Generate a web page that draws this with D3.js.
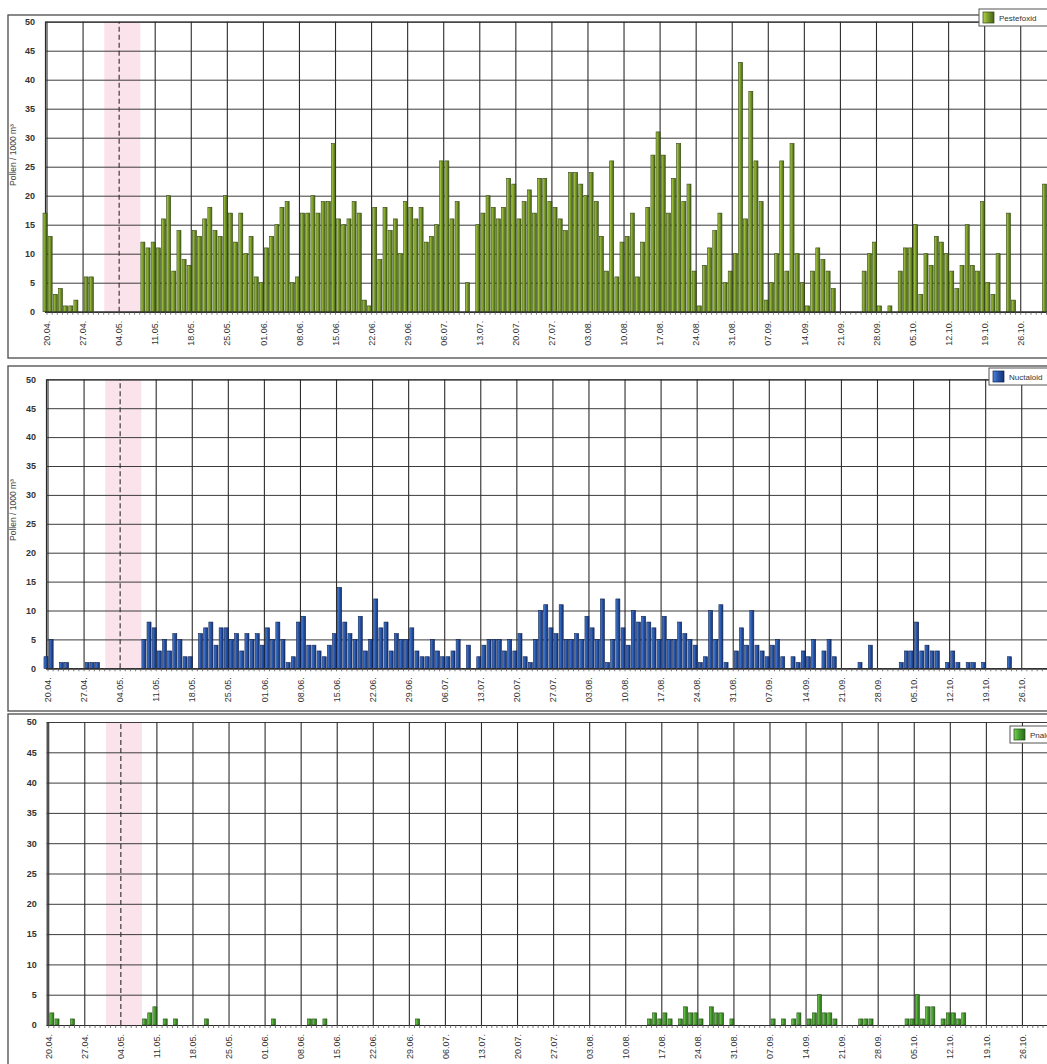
<!DOCTYPE html>
<html><head><meta charset="utf-8">
<script src="https://cdn.jsdelivr.net/npm/d3@7"></script>
<style>body{margin:0;background:#fff}svg{display:block}</style>
</head><body>
<svg id="c" width="1047" height="1064"></svg>
<script>
// ---------- DATA ----------
const weekLabels = ["20.04.","27.04.","04.05.","11.05.","18.05.","25.05.","01.06.","08.06.","15.06.","22.06.","29.06.","06.07.","13.07.","20.07.","27.07.","03.08.","10.08.","17.08.","24.08.","31.08.","07.09.","14.09.","21.09.","28.09.","05.10.","12.10.","19.10.","26.10."];
const yTicks = [0,5,10,15,20,25,30,35,40,45,50];
const seriesNames = ["Pestefoxid","Nuctaloid","Pnaloid"];
const yTitle = "Pollen / 1000 m³";

// daily values from 20.04. (index 0) to 31.10. (index 194)
const series1 = [
17,13,3,4,1,1,2,0,6,6,
0,0,0,0,0,0,0,0,0,12,
11,12,11,16,20,7,14,9,8,14,
13,16,18,14,13,20,17,12,17,10,
13,6,5,11,13,15,18,19,5,6,
17,17,20,17,19,19,29,16,15,16,
19,17,2,1,18,9,18,14,16,10,
19,18,16,18,12,13,15,26,26,16,
19,0,5,0,15,17,20,18,16,18,
23,22,16,19,21,17,23,23,19,18,
16,14,24,24,22,20,24,19,13,7,
26,6,12,13,17,6,12,18,27,31,
27,17,23,29,19,22,7,1,8,11,
14,17,5,7,10,43,16,38,26,19,
2,5,10,26,7,29,10,5,1,7,
11,9,7,4,0,0,0,0,0,7,
10,12,1,0,1,0,7,11,11,15,
3,10,8,13,12,10,7,4,8,15,
8,7,19,5,3,10,0,17,2,0,
0,0,0,0,22];
const series2 = [
2,5,0,1,1,0,0,0,1,1,
1,0,0,0,0,0,0,0,0,5,
8,7,3,5,3,6,5,2,2,0,
6,7,8,4,7,7,5,6,3,6,
5,6,4,7,5,8,5,1,2,8,
9,4,4,3,2,4,6,14,8,6,
5,9,3,5,12,7,8,3,6,5,
5,7,3,2,2,5,3,2,2,3,
5,0,4,0,2,4,5,5,5,3,
5,3,6,2,1,5,10,11,7,6,
11,5,5,6,5,9,7,5,12,1,
5,12,7,4,10,8,9,8,7,5,
9,5,5,8,6,5,4,1,2,10,
5,11,1,0,3,7,4,10,4,3,
2,4,5,2,0,2,1,3,2,5,
0,3,5,2,0,0,0,0,1,0,
4,0,0,0,0,0,1,3,3,8,
3,4,3,3,0,1,3,1,0,1,
1,0,1,0,0,0,0,2,0,0,
0,0,0,0,0];
const series3 = [
0,2,1,0,0,1,0,0,0,0,
0,0,0,0,0,0,0,0,0,1,
2,3,0,1,0,1,0,0,0,0,
0,1,0,0,0,0,0,0,0,0,
0,0,0,0,1,0,0,0,0,0,
0,1,1,0,1,0,0,0,0,0,
0,0,0,0,0,0,0,0,0,0,
0,0,1,0,0,0,0,0,0,0,
0,0,0,0,0,0,0,0,0,0,
0,0,0,0,0,0,0,0,0,0,
0,0,0,0,0,0,0,0,0,0,
0,0,0,0,0,0,0,1,2,1,
2,1,0,1,3,2,2,1,0,3,
2,2,0,1,0,0,0,0,0,0,
0,1,0,1,0,1,2,0,1,2,
5,2,2,1,0,0,0,0,1,1,
1,0,0,0,0,0,0,1,1,5,
1,3,3,0,1,2,2,1,2,0,
0,0,0,0,0,0,0,0,0,0,
0,0,0,0,0];

// ---------- LAYOUT ----------
const panels = [
  {values: series1, name: seriesNames[0], x0: 45,   yBase: 311.7, yTop: 21.7,
   frame: [8, 15, 1100, 343], legend: [979, 9], title: 155,
   colors: ["#b4d447", "#7c9d2d", "#44611a"], stroke: "#2f4410"},
  {values: series2, name: seriesNames[1], x0: 46,   yBase: 668.3, yTop: 379.3,
   frame: [8, 366, 1100, 345], legend: [989, 368], title: 510,
   colors: ["#4f86dc", "#2857ab", "#163270"], stroke: "#0e1f4c"},
  {values: series3, name: seriesNames[2], x0: 46.7, yBase: 1025,  yTop: 722,
   frame: [8, 714, 1100, 400], legend: [1010, 726], title: null,
   colors: ["#7ed35a", "#46a02f", "#2b6a1b"], stroke: "#1f4a12"}
];
const step = 5.152;
const plotRight = 1100;
const font = "'Liberation Sans', Arial, sans-serif";

const svg = d3.select("#c");
const defs = svg.append("defs");

panels.forEach((p, pi) => {
  const N = p.values.length;
  const xs = d3.scaleBand().domain(d3.range(N))
    .range([p.x0 - step / 2, p.x0 - step / 2 + N * step])
    .paddingInner(0.22).paddingOuter(0.11);
  const ys = d3.scaleLinear().domain([0, 50]).range([p.yBase, p.yTop]);
  const center = i => xs(i) + xs.bandwidth() / 2;
  const weekIdx = weekLabels.map((_, k) => k * 7);

  const grad = defs.append("linearGradient").attr("id", "g" + pi)
    .attr("x1", "0").attr("x2", "1").attr("y1", "0").attr("y2", "0");
  grad.append("stop").attr("offset", "0%").attr("stop-color", p.colors[0]);
  grad.append("stop").attr("offset", "45%").attr("stop-color", p.colors[1]);
  grad.append("stop").attr("offset", "100%").attr("stop-color", p.colors[2]);

  const g = svg.append("g");
  // frame
  g.append("rect").attr("x", p.frame[0]).attr("y", p.frame[1])
    .attr("width", p.frame[2]).attr("height", p.frame[3])
    .attr("fill", "#fff").attr("stroke", "#4a4a4a").attr("stroke-width", 1.3);

  // pink band
  const gap = (xs.step() - xs.bandwidth()) / 2;
  g.append("rect")
    .attr("x", xs(12) - gap).attr("y", p.yTop)
    .attr("width", xs(18) + xs.bandwidth() + gap - (xs(12) - gap))
    .attr("height", p.yBase - p.yTop)
    .attr("fill", "#fbe3ec");

  // horizontal grid + y labels
  const yAx = g.append("g").attr("transform", `translate(${p.x0},0)`)
    .call(d3.axisLeft(ys).tickValues(yTicks).tickSize(-(plotRight - p.x0)).tickPadding(10));
  yAx.select(".domain").attr("stroke", "#2a2a2a").attr("stroke-width", 1.2);
  yAx.selectAll(".tick line").attr("stroke", "#3c3c3c").attr("stroke-width", 1);
  yAx.selectAll(".tick text").attr("font-family", font).attr("font-size", 9)
    .attr("font-weight", "bold").attr("fill", "#333");

  // vertical weekly grid + date labels
  const xAx = g.append("g").attr("transform", `translate(${xs.bandwidth() / 2},${p.yBase})`)
    .call(d3.axisBottom(xs).tickValues(weekIdx).tickSize(-(p.yBase - p.yTop))
      .tickFormat((d, k) => weekLabels[k]).tickSizeOuter(0));
  xAx.select(".domain").remove();
  xAx.selectAll(".tick line").attr("stroke", "#2c2c2c").attr("stroke-width", 1.1)
    .attr("stroke-dasharray", d => d === 14 ? "5,3" : null);
  xAx.selectAll(".tick text").attr("font-family", font).attr("font-size", 9)
    .attr("fill", "#333").attr("text-anchor", "end")
    .attr("transform", "rotate(-90)").attr("x", -9).attr("y", 0).attr("dy", "0.35em");

  // bars
  g.append("g").selectAll("rect")
    .data(p.values.map((v, i) => ({i, v})).filter(d => d.v > 0))
    .join("rect")
    .attr("x", d => xs(d.i)).attr("width", xs.bandwidth())
    .attr("y", d => ys(d.v)).attr("height", d => ys(0) - ys(d.v))
    .attr("fill", `url(#g${pi})`).attr("stroke", p.stroke).attr("stroke-width", 0.6);

  // daily category ticks / baseline
  const dAx = g.append("g").attr("transform", `translate(${xs.bandwidth() / 2},${p.yBase})`)
    .call(d3.axisBottom(xs).tickValues(d3.range(N)).tickSize(3).tickFormat("").tickSizeOuter(0));
  dAx.select(".domain").attr("stroke", "#2a2a2a").attr("stroke-width", 1.1)
    .attr("d", `M${p.x0 - xs.bandwidth() / 2},0.5H${plotRight}`);
  dAx.selectAll(".tick line").attr("stroke", "#555").attr("stroke-width", 0.8);

  // legend
  const lg = g.append("g").attr("transform", `translate(${p.legend[0]},${p.legend[1]})`);
  lg.append("rect").attr("width", 120).attr("height", 17)
    .attr("fill", "#fff").attr("stroke", "#555").attr("stroke-width", 1);
  lg.append("rect").attr("x", 4).attr("y", 3).attr("width", 11).attr("height", 11)
    .attr("fill", `url(#g${pi})`).attr("stroke", p.stroke).attr("stroke-width", 0.7);
  lg.append("text").attr("x", 20).attr("y", 12).attr("font-family", font)
    .attr("font-size", 8).attr("fill", "#333").text(p.name);

  // y title
  if (p.title !== null) {
    g.append("text").attr("transform", `translate(16,${p.title}) rotate(-90)`)
      .attr("text-anchor", "middle").attr("font-family", font).attr("font-size", 8.5)
      .attr("fill", "#444").text(yTitle);
  }
});
</script>
</body></html>
